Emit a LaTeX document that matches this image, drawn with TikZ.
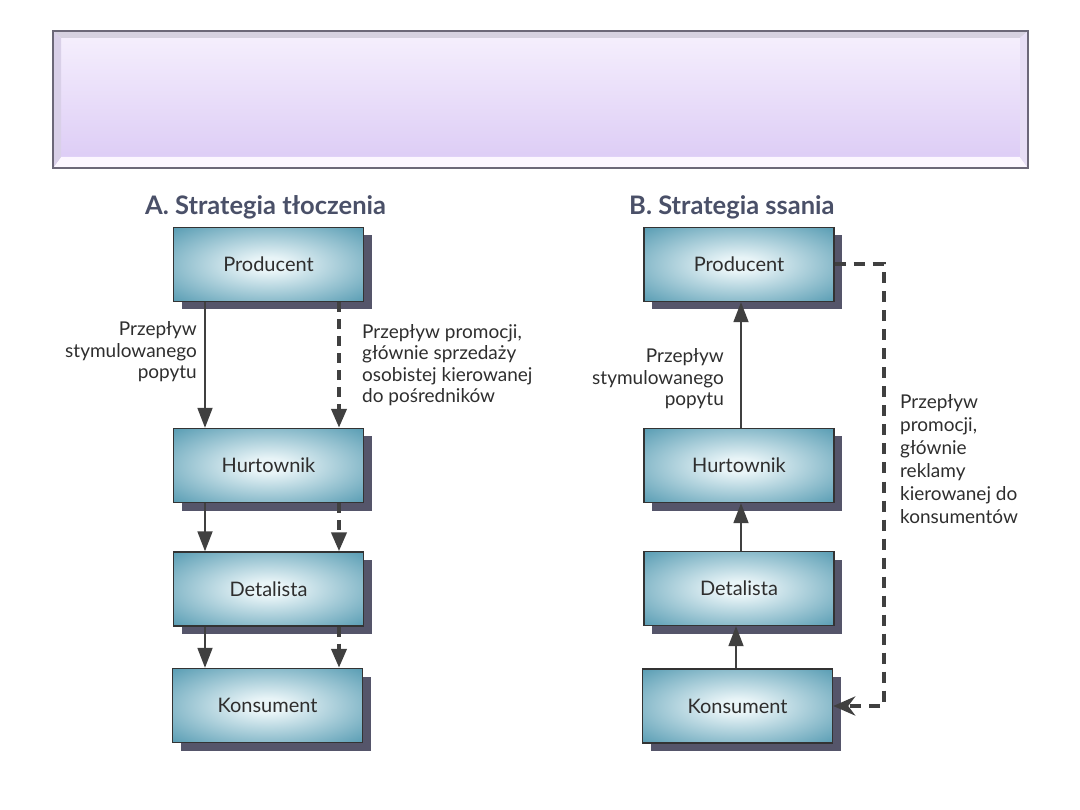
\documentclass[tikz,border=0pt]{standalone}
\usepackage{fontspec}
\setmainfont{Lato}
\usetikzlibrary{arrows.meta,shadows}
\definecolor{tealout}{HTML}{3A8AA5}
\definecolor{tealin}{HTML}{E8F4F7}
\definecolor{shadowc}{HTML}{55556A}
\definecolor{linec}{HTML}{404040}
\definecolor{titlec}{HTML}{4A5068}
\definecolor{banTop}{HTML}{F6F0FD}
\definecolor{banBot}{HTML}{DBCAF5}
\definecolor{bevTop}{HTML}{D6D1E0}
\definecolor{bevBot}{HTML}{FCF7FF}
\definecolor{bevLeft}{HTML}{D9D0E8}
\definecolor{bevRight}{HTML}{E7DEF5}
\definecolor{banEdge}{HTML}{6C6878}
\definecolor{txt}{HTML}{2E2E2E}
\pgfdeclareradialshading{boxshade}{\pgfpoint{0bp}{0bp}}{color(0bp)=(tealin); color(5bp)=(tealin); color(42bp)=(tealout); color(100bp)=(tealout)}
\tikzset{
  box/.style={shade, shading=boxshade, draw=black!80, line width=1.4pt,
    minimum width=190pt, minimum height=74pt, inner sep=0pt,
    font=\fontsize{20}{22}\selectfont, text=txt,
    general shadow={fill=shadowc, shadow xshift=8pt, shadow yshift=-8pt}},
  flow/.style={draw=linec, line width=1.8pt, -{Triangle[length=20pt,width=15pt]}},
  promo/.style={draw=linec, line width=4pt, dash pattern=on 10pt off 7pt,
    -{Triangle[length=19pt,width=15pt]}},
  promoback/.style={draw=linec, line width=4pt, dash pattern=on 11pt off 8pt,
    -{Stealth[length=22pt,width=19pt,inset=7pt]}},
  lbl/.style={font=\fontsize{19}{21.5}\selectfont, text=txt, inner sep=0pt},
  ttl/.style={font=\bfseries\fontsize{25.5}{28}\selectfont, text=titlec, inner sep=0pt, anchor=west}
}
\begin{document}
\begin{tikzpicture}[x=1pt,y=-1pt]
\useasboundingbox (0,0) rectangle (1080,810);
% banner
\shade[top color=banTop, bottom color=banBot] (53,31) rectangle (1028,168);
\fill[bevTop] (53,31) -- (1028,31) -- (1020,38) -- (61,38) -- cycle;
\fill[bevBot] (53,168) -- (1028,168) -- (1020,157) -- (61,157) -- cycle;
\fill[bevLeft] (53,31) -- (61,38) -- (61,157) -- (53,168) -- cycle;
\fill[bevRight] (1028,31) -- (1020,38) -- (1020,157) -- (1028,168) -- cycle;
\draw[banEdge, line width=1.4pt] (53,31) rectangle (1028,168);

% titles
\node[ttl] (tA) at (145,207) {A. Strategia tłoczenia};
\node[ttl] (tB) at (629,207) {B. Strategia ssania};

% left column
\node[box] (lP) at (268.5,264.5) {Producent};
\node[box] (lH) at (268.5,465.5) {Hurtownik};
\node[box] (lD) at (268.5,589) {Detalista};
\node[box] (lK) at (267.5,705.5) {Konsument};

\draw[flow] ([xshift=-63.5pt]lP.south) -- ([xshift=-63.5pt]lH.north);
\draw[flow] ([xshift=-63.5pt]lH.south) -- ([xshift=-63.5pt]lD.north);
\draw[flow] ([xshift=-63.5pt]lD.south) -- ([xshift=-62.5pt]lK.north);
\draw[promo] ([xshift=70.5pt]lP.south) -- ([xshift=70.5pt]lH.north);
\draw[promo] ([xshift=70.5pt]lH.south) -- ([xshift=70.5pt]lD.north);
\draw[promo] ([xshift=70.5pt]lD.south) -- ([xshift=71.5pt]lK.north);

\node[lbl, align=right, anchor=east] (lL1) at (197,352) {Przepływ\\stymulowanego\\popytu};
\node[lbl, align=left, anchor=west] (lL2) at (362,365) {Przepływ promocji,\\głównie sprzedaży\\osobistej kierowanej\\do pośredników};

% right column
\node[box] (rP) at (739,264.5) {Producent};
\node[box] (rH) at (739,465.5) {Hurtownik};
\node[box] (rD) at (739,588.5) {Detalista};
\node[box] (rK) at (737.5,706) {Konsument};

\draw[flow] ([xshift=2pt]rH.north) -- ([xshift=2pt]rP.south);
\draw[flow] ([xshift=2pt]rD.north) -- ([xshift=2pt]rH.south);
\draw[flow] ([xshift=-1.5pt]rK.north) -- ([xshift=-3pt]rD.south);
\draw[promoback] (rP.east) -- ++(49,0) |- (rK.east);

\node[lbl, align=right, anchor=east] (rL1) at (724,379) {Przepływ\\stymulowanego\\popytu};
\node[lbl, align=left, anchor=west, font=\fontsize{19}{23}\selectfont] (rL2) at (900,459.5) {Przepływ\\promocji,\\głównie\\reklamy\\kierowanej do\\konsumentów};
\end{tikzpicture}
\end{document}
